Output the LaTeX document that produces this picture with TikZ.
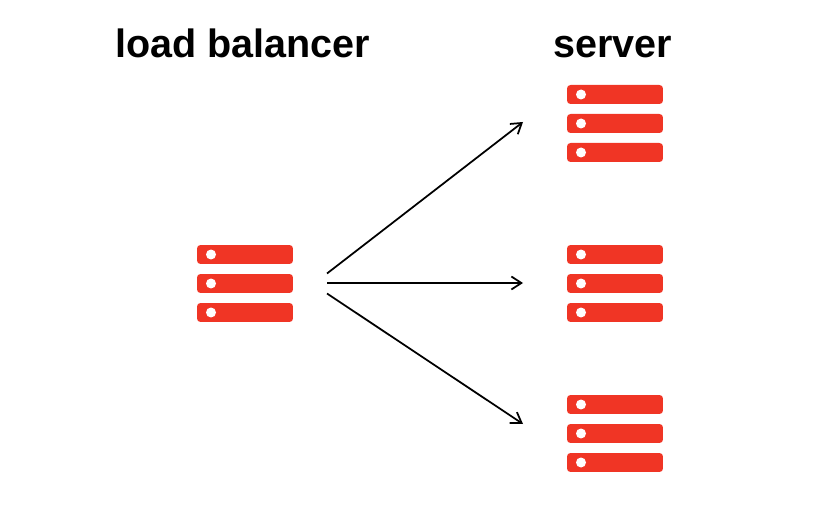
\documentclass[tikz,border=0pt]{standalone}
\usepackage{fontspec}
\setmainfont{Liberation Sans}
\usetikzlibrary{arrows.meta}

\definecolor{rackred}{HTML}{F03525}

\tikzset{
	bar/.style={fill=rackred,rounded corners=0.07cm,minimum width=1.92cm,minimum height=0.38cm,inner sep=0pt},
	led/.style={circle,fill=white,minimum size=0.2cm,inner sep=0pt},
	heading/.style={font=\fontsize{22.5}{27}\selectfont\bfseries,text=black,inner sep=0pt,anchor=base},
	link/.style={-{Straight Barb[length=0.2cm,width=0.26cm]},line width=1pt},
	rack/.pic={
		% three stacked bars, each with its light
		\node[bar] (-top) at (0,-29) {};
		\node[bar] (-mid) at (0,0) {};
		\node[bar] (-low) at (0,29) {};
		\node[led] (-topled) at (-34,-29) {};
		\node[led] (-midled) at (-34,0) {};
		\node[led] (-lowled) at (-34,29) {};
		% free ends for the arrows
		\coordinate (-outa) at (82,-10);
		\coordinate (-outb) at (82,-0.5);
		\coordinate (-outc) at (82,10);
		\coordinate (-inhigh) at (-92,-1.5);
		\coordinate (-in) at (-92,-0.5);
		\coordinate (-inlow) at (-92,-9.5);
	}
}

\begin{document}
\begin{tikzpicture}[x=0.02cm,y=-0.02cm]
	\useasboundingbox (0,0) rectangle (832,530);
	
	% Headings
	\node[heading] (lbtitle) at (242.5,58) {load balancer};
	\node[heading] (srvtitle) at (612.5,58) {server};
	
	% Load balancer
	\pic (lb) at (245,283.5) {rack};
	
	% Servers
	\pic (srva) at (615,123.5) {rack};
	\pic (srvb) at (615,283.5) {rack};
	\pic (srvc) at (615,433.5) {rack};
	
	% Arrows
	\draw[link] (lb-outa) -- (srva-inhigh);
	\draw[link] (lb-outb) -- (srvb-in);
	\draw[link] (lb-outc) -- (srvc-inlow);
	
\end{tikzpicture}
\end{document}
